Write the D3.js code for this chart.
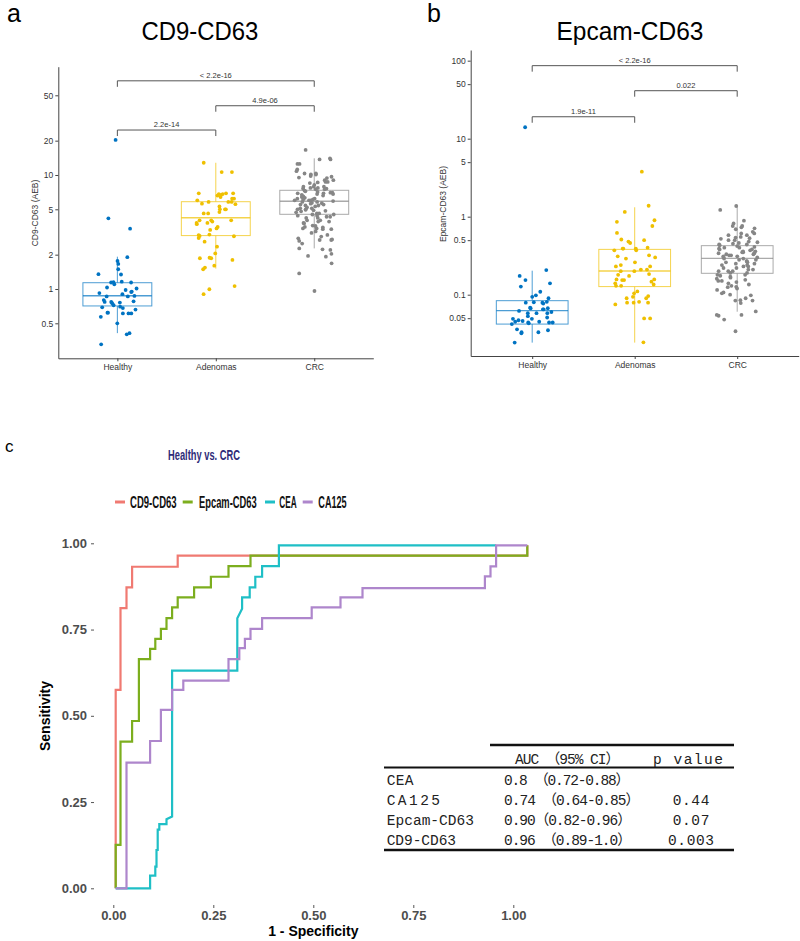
<!DOCTYPE html>
<html><head><meta charset="utf-8">
<script src="https://cdn.jsdelivr.net/npm/d3@7/dist/d3.min.js"></script>
<style>body{margin:0;background:#fff}svg{display:block}</style>
</head><body>
<svg id="chart" width="800" height="941"></svg>
<script>
// ---------------- DATA ----------------
const groups = ["Healthy", "Adenomas", "CRC"];
const groupColors = ["#0073C2", "#EFC000", "#868686"];

// Panel a: CD9-CD63 (AEB)
const cd9Healthy = [20.3, 4.17, 3.38, 1.9, 1.76, 1.66, 1.49, 1.35, 1.34, 1.16, 1.15, 1.14, 1.14, 1.1, 1.03, 1.01, 0.98, 0.95, 0.94, 0.92, 0.9, 0.87, 0.86, 0.86, 0.8, 0.78, 0.77, 0.77, 0.76, 0.75, 0.72, 0.7, 0.69, 0.68, 0.66, 0.62, 0.62, 0.61, 0.61, 0.61, 0.57, 0.5, 0.41, 0.4, 0.327];
const cd9Adenomas = [12.8, 10.6, 10.6, 6.9, 6.9, 6.8, 6.9, 6.8, 6.6, 6.7, 6.4, 6.2, 6.2, 6.0, 5.8, 5.8, 5.8, 5.6, 5.55, 5.3, 5.0, 5.0, 5.0, 4.73, 4.6, 4.6, 4.0, 4.0, 4.0, 3.9, 3.8, 3.8, 3.7, 3.5, 3.4, 3.3, 3.0, 2.97, 2.92, 2.9, 2.8, 2.6, 2.35, 2.05, 1.88, 1.86, 1.86, 1.8, 1.6, 1.54, 1.49, 1.06, 0.995, 0.9];
const cd9CRC = [16.6, 14.0, 13.7, 13.7, 12.5, 12.5, 11.2, 10.8, 10.3, 10.3, 10.1, 10.1, 9.8, 9.65, 9.5, 9.4, 9.0, 9.0, 8.7, 8.7, 8.6, 8.5, 8.2, 7.9, 7.9, 7.9, 7.7, 7.7, 7.6, 7.6, 7.5, 7.5, 7.3, 7.2, 7.1, 7.0, 7.0, 6.9, 6.9, 6.8, 6.8, 6.7, 6.6, 6.5, 6.4, 6.3, 6.2, 6.2, 6.1, 6.1, 6.0, 6.0, 6.0, 5.9, 5.8, 5.8, 5.7, 5.65, 5.6, 5.5, 5.5, 5.4, 5.4, 5.3, 5.2, 5.1, 5.1, 5.0, 5.0, 4.95, 4.9, 4.85, 4.8, 4.7, 4.6, 4.6, 4.5, 4.5, 4.4, 4.4, 4.3, 4.3, 4.2, 4.2, 4.0, 4.0, 3.9, 3.9, 3.8, 3.76, 3.6, 3.57, 3.5, 3.47, 3.4, 3.4, 3.35, 3.35, 3.2, 3.1, 2.98, 2.88, 2.78, 2.72, 2.69, 2.69, 2.64, 2.5, 2.27, 2.23, 2.2, 2.03, 1.95, 1.92, 1.68, 1.37, 0.96];
// box stats: [lower whisker, Q1, median, Q3, upper whisker]
const cd9Box = [[0.41, 0.71, 0.873, 1.135, 1.92], [1.51, 2.94, 4.22, 5.83, 12.8], [2.27, 4.52, 5.88, 7.34, 14.0]];
const cd9Ticks = [0.5, 1, 2, 5, 10, 20, 50];
const cd9Compare = [[0, 2, 67, "< 2.2e-16"], [1, 2, 40.5, "4.9e-06"], [0, 1, 24.8, "2.2e-14"]];

// Panel b: Epcam-CD63 (AEB)
const epHealthy = [14, 0.207, 0.174, 0.154, 0.14, 0.127, 0.109, 0.098, 0.094, 0.09, 0.081, 0.08, 0.079, 0.079, 0.077, 0.068, 0.067, 0.067, 0.065, 0.065, 0.062, 0.06, 0.058, 0.058, 0.058, 0.053, 0.051, 0.049, 0.049, 0.047, 0.046, 0.045, 0.045, 0.044, 0.044, 0.044, 0.043, 0.042, 0.036, 0.035, 0.033, 0.033, 0.032, 0.0243];
const epAdenomas = [3.78, 1.38, 1.15, 0.9, 0.86, 0.76, 0.62, 0.51, 0.5, 0.48, 0.46, 0.4, 0.39, 0.39, 0.39, 0.37, 0.37, 0.32, 0.31, 0.3, 0.29, 0.26, 0.24, 0.23, 0.23, 0.21, 0.21, 0.2, 0.2, 0.184, 0.18, 0.174, 0.157, 0.157, 0.154, 0.154, 0.147, 0.14, 0.135, 0.13, 0.13, 0.11, 0.104, 0.096, 0.094, 0.09, 0.09, 0.081, 0.079, 0.079, 0.079, 0.075, 0.0497, 0.0497, 0.0245];
const epCRC = [1.37, 1.22, 0.89, 0.82, 0.76, 0.76, 0.73, 0.71, 0.69, 0.64, 0.61, 0.61, 0.58, 0.58, 0.55, 0.54, 0.53, 0.52, 0.5, 0.5, 0.48, 0.47, 0.46, 0.45, 0.44, 0.44, 0.43, 0.42, 0.41, 0.4, 0.4, 0.39, 0.38, 0.38, 0.37, 0.36, 0.36, 0.35, 0.35, 0.34, 0.34, 0.33, 0.33, 0.32, 0.32, 0.31, 0.31, 0.3, 0.3, 0.29, 0.29, 0.28, 0.28, 0.27, 0.27, 0.26, 0.26, 0.25, 0.25, 0.24, 0.24, 0.23, 0.23, 0.22, 0.22, 0.21, 0.21, 0.2, 0.2, 0.2, 0.19, 0.19, 0.18, 0.18, 0.175, 0.17, 0.165, 0.16, 0.155, 0.15, 0.15, 0.145, 0.14, 0.135, 0.13, 0.126, 0.125, 0.12, 0.115, 0.107, 0.104, 0.1, 0.098, 0.09, 0.085, 0.084, 0.084, 0.078, 0.061, 0.055, 0.055, 0.0537, 0.048, 0.034];
const epBox = [[0.0243, 0.042, 0.0624, 0.0838, 0.203], [0.0243, 0.127, 0.201, 0.381, 1.32], [0.0605, 0.188, 0.292, 0.425, 1.34]];
const epTicks = [0.05, 0.1, 0.5, 1, 5, 10, 50, 100];
const epCompare = [[0, 2, 86.3, "< 2.2e-16"], [1, 2, 41.2, "0.022"], [0, 1, 19.1, "1.9e-11"]];

// Panel c: ROC curves [1 - specificity, sensitivity]
const rocNames = ["CD9-CD63", "Epcam-CD63", "CEA", "CA125"];
const rocColors = ["#F07A72", "#7CAE1E", "#1FBFC6", "#AE86CC"];
const rocCD9 = [[0.006,0],[0.006,0.575],[0.018,0.575],[0.018,0.812],[0.033,0.812],[0.033,0.872],[0.047,0.872],[0.047,0.932],[0.161,0.932],[0.161,0.964],[1.035,0.964],[1.035,0.994]];
const rocEpcam = [[0.006,0],[0.006,0.126],[0.018,0.126],[0.018,0.425],[0.047,0.425],[0.047,0.485],[0.064,0.485],[0.064,0.664],[0.092,0.664],[0.092,0.694],[0.105,0.694],[0.105,0.723],[0.119,0.723],[0.119,0.752],[0.133,0.752],[0.133,0.783],[0.147,0.783],[0.147,0.814],[0.161,0.814],[0.161,0.843],[0.202,0.843],[0.202,0.872],[0.244,0.872],[0.244,0.903],[0.288,0.903],[0.288,0.934],[0.343,0.934],[0.343,0.964],[1.035,0.964],[1.035,0.994]];
const rocCEA = [[0.006,0],[0.092,0],[0.092,0.037],[0.105,0.037],[0.105,0.063],[0.108,0.063],[0.108,0.111],[0.111,0.111],[0.111,0.17],[0.115,0.17],[0.115,0.186],[0.133,0.186],[0.133,0.2],[0.147,0.208],[0.147,0.631],[0.31,0.631],[0.31,0.783],[0.322,0.81],[0.322,0.843],[0.341,0.843],[0.341,0.872],[0.355,0.872],[0.355,0.903],[0.372,0.903],[0.372,0.934],[0.414,0.934],[0.414,0.994],[0.957,0.994]];
const rocCA125 = [[0.006,0],[0.033,0],[0.033,0.364],[0.092,0.364],[0.092,0.427],[0.119,0.427],[0.119,0.517],[0.147,0.517],[0.147,0.575],[0.175,0.575],[0.175,0.602],[0.288,0.602],[0.288,0.664],[0.315,0.664],[0.315,0.696],[0.329,0.696],[0.329,0.723],[0.343,0.723],[0.343,0.752],[0.372,0.752],[0.372,0.783],[0.496,0.783],[0.496,0.814],[0.568,0.814],[0.568,0.843],[0.623,0.843],[0.623,0.870],[0.929,0.870],[0.929,0.904],[0.943,0.904],[0.943,0.933],[0.957,0.933],[0.957,0.994],[1.035,0.994]];
const rocTicks = [0, 0.25, 0.5, 0.75, 1];

// Table
const tableHeader = ["AUC （95% CI）", "p value"];
const tableRows = ["CEA", "CA125", "Epcam-CD63", "CD9-CD63"];
const tableAUC = ["0.8 （0.72-0.88）", "0.74 （0.64-0.85）", "0.90（0.82-0.96）", "0.96 （0.89-1.0）"];
const tableP = ["", "0.44", "0.07", "0.003"];

// ---------------- DRAW ----------------
const svg = d3.select("#chart");
const SANS = "'Liberation Sans', Arial, sans-serif";

// deterministic horizontal jitter (layout only)
function jitter(i) { const s = Math.sin(i * 12.9898 + 78.233) * 43758.5453; return (s - Math.floor(s)) - 0.5; }

// squeeze a text horizontally to a target width (keeps glyph height)
function fitText(sel, x, y, w, anchor) {
  const nat = sel.node().getComputedTextLength();
  const sx = w / nat;
  const tx = anchor === "middle" ? x - w / 2 : x;
  sel.attr("x", 0).attr("y", 0).attr("text-anchor", "start")
    .attr("transform", `translate(${tx},${y}) scale(${sx},1)`);
}

function boxPanel(o) {
  const g = svg.append("g");
  const x = d3.scalePoint().domain(groups).range([o.left, o.right]).padding(0.6);
  const y = d3.scaleLog().domain(o.domain).range([o.bottom, o.top]);
  const step = x.step();
  const bw = step * 0.7;

  const ya = g.append("g").attr("transform", `translate(${o.left},0)`)
    .call(d3.axisLeft(y).tickValues(o.ticks).tickFormat(d => String(d)).tickSize(3).tickSizeOuter(0).tickPadding(2));
  const xa = g.append("g").attr("transform", `translate(0,${o.bottom})`)
    .call(d3.axisBottom(x).tickSize(3).tickSizeOuter(0).tickPadding(3));
  [ya, xa].forEach(a => {
    a.select(".domain").attr("stroke", "#444").attr("stroke-width", 1);
    a.selectAll(".tick line").attr("stroke", "#444");
    a.selectAll("text").attr("fill", "#333").attr("font-family", SANS).attr("font-size", 8.5);
  });

  o.box.forEach((b, i) => {
    const cx = x(groups[i]);
    const col = groupColors[i];
    const bg = g.append("g").attr("stroke", col).attr("stroke-opacity", 0.7).attr("fill", "none").attr("stroke-width", 1);
    bg.append("line").attr("x1", cx).attr("x2", cx).attr("y1", y(b[0])).attr("y2", y(b[1]));
    bg.append("line").attr("x1", cx).attr("x2", cx).attr("y1", y(b[3])).attr("y2", y(b[4]));
    bg.append("rect").attr("x", cx - bw / 2).attr("width", bw).attr("y", y(b[3])).attr("height", y(b[1]) - y(b[3])).attr("fill", "#fff");
    bg.append("line").attr("x1", cx - bw / 2).attr("x2", cx + bw / 2).attr("y1", y(b[2])).attr("y2", y(b[2])).attr("stroke-width", 1.4);
  });

  o.data.forEach((arr, gi) => {
    g.append("g").selectAll("circle").data(arr).join("circle")
      .attr("cx", (d, i) => x(groups[gi]) + jitter(i + gi * 101 + o.seed) * 0.4 * step)
      .attr("cy", d => y(d))
      .attr("r", 1.9)
      .attr("fill", groupColors[gi]);
  });

  o.compare.forEach(c => {
    const x1 = x(groups[c[0]]), x2 = x(groups[c[1]]), yy = y(c[2]);
    g.append("path").attr("d", `M${x1},${yy + 6}V${yy}H${x2}V${yy + 6}`)
      .attr("fill", "none").attr("stroke", "#555").attr("stroke-width", 1);
    g.append("text").attr("x", (x1 + x2) / 2).attr("y", yy - 3).attr("text-anchor", "middle")
      .attr("font-family", SANS).attr("font-size", 7.5).attr("fill", "#333").text(c[3]);
  });

  g.append("text").attr("transform", `translate(${o.ylabX},${o.ylabY}) rotate(-90)`)
    .attr("text-anchor", "middle").attr("dominant-baseline", "central")
    .attr("font-family", SANS).attr("font-size", 8.5).attr("fill", "#333").text(o.ylab);
  const t = g.append("text").attr("font-family", SANS).attr("font-size", 25).attr("fill", "#000").text(o.title);
  fitText(t, o.titleX, 40, o.titleW, "middle");
  g.append("text").attr("x", o.letterX).attr("y", 21.5)
    .attr("font-family", SANS).attr("font-size", 25).attr("fill", "#000").text(o.letter);
}

boxPanel({
  left: 58.3, right: 373.3, top: 66.7, bottom: 358.3, domain: [0.2466, 89.1], seed: 3,
  ticks: cd9Ticks, box: cd9Box, data: [cd9Healthy, cd9Adenomas, cd9CRC], compare: cd9Compare,
  ylab: "CD9-CD63 (AEB)", ylabX: 35, ylabY: 213, title: "CD9-CD63", titleX: 200, titleW: 117, letter: "a", letterX: 7
});
boxPanel({
  left: 470.7, right: 798.7, top: 50, bottom: 356, domain: [0.01637, 137], seed: 500,
  ticks: epTicks, box: epBox, data: [epHealthy, epAdenomas, epCRC], compare: epCompare,
  ylab: "Epcam-CD63 (AEB)", ylabX: 443, ylabY: 204, title: "Epcam-CD63", titleX: 630, titleW: 147, letter: "b", letterX: 427
});

// ---------------- Panel c ROC ----------------
const gc = svg.append("g");
const xr = d3.scaleLinear().domain([0, 1]).range([113.3, 513.3]);
const yr = d3.scaleLinear().domain([0, 1]).range([888.3, 543.3]);

gc.append("text").attr("x", 5).attr("y", 452).attr("font-family", SANS).attr("font-size", 17).text("c");
const ttl = gc.append("text").attr("font-family", SANS).attr("font-weight", "bold").attr("font-size", 14)
  .attr("fill", "#2E2B78").text("Healthy vs. CRC");
fitText(ttl, 204, 460, 72, "middle");

const legKeyX = [115, 182.7, 265, 302.7];
const legTextX = [130, 199, 279.3, 318.3];
const legTextW = [46.7, 57.7, 17.4, 28.4];
rocNames.forEach((n, i) => {
  gc.append("line").attr("x1", legKeyX[i]).attr("x2", legKeyX[i] + 10).attr("y1", 502).attr("y2", 502)
    .attr("stroke", rocColors[i]).attr("stroke-width", 3);
  const lt = gc.append("text").attr("font-family", SANS).attr("font-weight", "bold").attr("font-size", 16)
    .attr("fill", "#111").text(n);
  fitText(lt, legTextX[i], 508, legTextW[i], "start");
});

const yAx = gc.append("g").attr("transform", "translate(94,0)")
  .call(d3.axisLeft(yr).tickValues(rocTicks).tickFormat(d3.format(".2f")).tickSize(3).tickPadding(4));
const xAx = gc.append("g").attr("transform", "translate(0,905)")
  .call(d3.axisBottom(xr).tickValues(rocTicks).tickFormat(d3.format(".2f")).tickSize(3).tickPadding(3));
[yAx, xAx].forEach(a => {
  a.select(".domain").remove();
  a.selectAll(".tick line").attr("stroke", "#555");
  a.selectAll("text").attr("fill", "#4d4d4d").attr("font-family", SANS).attr("font-weight", "bold").attr("font-size", 13);
});
gc.append("text").attr("x", 313.3).attr("y", 936).attr("text-anchor", "middle")
  .attr("font-family", SANS).attr("font-weight", "bold").attr("font-size", 14).text("1 - Specificity");
gc.append("text").attr("transform", "translate(44.5,716) rotate(-90)").attr("text-anchor", "middle")
  .attr("dominant-baseline", "central")
  .attr("font-family", SANS).attr("font-weight", "bold").attr("font-size", 14).text("Sensitivity");

const line = d3.line().x(d => xr(d[0])).y(d => yr(d[1]));
[rocCD9, rocEpcam, rocCEA, rocCA125].forEach((pts, i) => {
  gc.append("path").attr("d", line(pts)).attr("fill", "none")
    .attr("stroke", rocColors[i]).attr("stroke-width", 2.2).attr("stroke-linejoin", "miter");
});

// table
const MONO = "'Liberation Mono', 'Noto Sans CJK SC', monospace";
const tg = gc.append("g").attr("font-family", MONO).attr("font-size", 14.5).attr("fill", "#222");
tg.append("line").attr("x1", 490).attr("x2", 734).attr("y1", 745).attr("y2", 745).attr("stroke", "#111").attr("stroke-width", 2.4);
tg.append("line").attr("x1", 384).attr("x2", 734).attr("y1", 767.5).attr("y2", 767.5).attr("stroke", "#111").attr("stroke-width", 2);
tg.append("line").attr("x1", 384).attr("x2", 734).attr("y1", 850).attr("y2", 850).attr("stroke", "#111").attr("stroke-width", 2.4);
tg.append("text").attr("x", 515).attr("y", 763.5).attr("textLength", 105).text(tableHeader[0]);
tg.append("text").attr("x", 653).attr("y", 763.5).attr("textLength", 70).text(tableHeader[1]);
const rowY = [785, 805, 824.5, 844.5];
const rowW = [26.7, 53.3, 87.3, 69.3];
const aucW = [126, 136, 127.7, 127.7];
const pW = [0, 36.7, 36.7, 46];
tableRows.forEach((r, i) => {
  tg.append("text").attr("x", 386.7).attr("y", rowY[i]).attr("textLength", rowW[i]).text(r);
  tg.append("text").attr("x", 504).attr("y", rowY[i]).attr("textLength", aucW[i]).text(tableAUC[i]);
  if (tableP[i]) tg.append("text").attr("x", 691 - pW[i] / 2).attr("y", rowY[i])
    .attr("textLength", pW[i]).text(tableP[i]);
});
</script>
</body></html>
